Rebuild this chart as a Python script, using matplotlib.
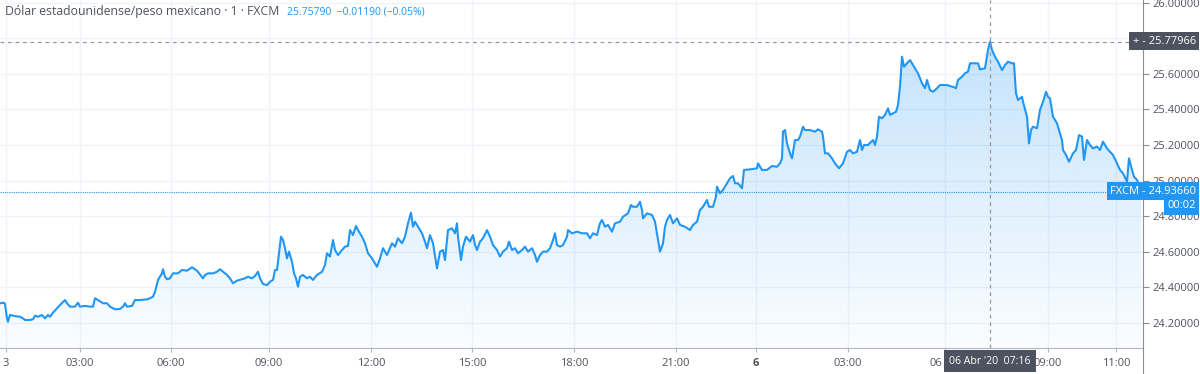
import numpy as np
import matplotlib.pyplot as plt
from matplotlib.patches import Polygon
from matplotlib.colors import to_rgb
from matplotlib.lines import Line2D
from matplotlib.transforms import ScaledTranslation

plt.rcParams['font.family'] = ['Open Sans', 'DejaVu Sans']

# USD/MXN, 1-minute bars (x = bar position on the chart, price)
bar = [
    0, 4, 5, 7, 8, 10, 15, 20, 23, 25, 30, 33, 35, 38, 42, 45, 48, 50, 53, 57,
    60, 65, 67, 70, 75, 78, 80, 85, 90, 93, 95, 98, 103, 107, 110, 115, 120, 123, 125, 127,
    132, 135, 140, 147, 150, 153, 155, 158, 162, 163, 165, 167, 170, 173, 178, 182, 187, 192, 197,
    203, 205, 208, 213, 217, 220, 223, 227, 230, 233, 237, 242, 245, 248, 252, 255, 258, 260, 263,
    267, 270, 273, 275, 277, 281, 283, 285, 287, 289, 292, 294, 296, 298, 300, 303, 307, 310, 313,
    317, 322, 325, 327, 330, 333, 335, 338, 342, 345, 348, 350, 353, 356, 358, 362, 365, 368, 372,
    377, 380, 383, 387, 392, 395, 398,
    402, 405, 408, 411, 413, 415, 418, 422, 425, 427, 430, 433, 437, 440, 443, 445, 448, 452, 455,
    457, 458, 461, 463, 466, 470, 473, 475, 477, 480, 483, 487, 490, 493, 497, 500, 503, 507, 509,
    512, 515, 518, 522, 525, 528, 532, 535, 537, 540, 543, 547, 550, 553, 555, 557, 560, 563, 567,
    568, 572, 577, 582, 587, 590, 593, 597, 599,
    600, 602, 605, 608, 612, 615, 620, 623, 628, 631, 633, 637, 640, 642, 643, 647, 652, 655, 658,
    660, 663, 665, 667, 670, 673, 677, 680, 685, 690, 693, 697, 700, 703, 707, 709, 713, 716, 717,
    720, 723, 727, 730, 733, 735, 738, 742, 744, 750, 757, 758, 762, 767, 772, 777, 780, 782, 783,
    785, 787, 790, 792, 795, 798,
    800, 803, 805, 810, 815, 818, 822, 823, 825, 828, 832, 835, 839, 843, 847, 850, 853, 857, 860,
    862, 864, 868, 873, 875, 877, 879, 882, 885, 888, 890, 893, 896, 898, 900, 902, 904, 907, 910,
    913, 916, 918, 922, 925, 927, 930, 933, 937, 940, 943, 947, 950, 953, 956, 958, 962, 965, 968,
    970, 973, 978, 980, 985, 988, 990, 992, 995, 998,
    1002, 1005, 1008, 1012, 1014, 1016, 1018, 1022, 1023, 1027, 1029, 1031, 1033, 1037, 1040, 1043,
    1046, 1048, 1050, 1053, 1057, 1060, 1062, 1063, 1066, 1069, 1073, 1076, 1079, 1082, 1084, 1087,
    1090, 1093, 1097, 1100, 1103, 1107, 1110, 1113, 1117, 1120, 1123, 1127, 1129, 1132, 1134, 1137,
    1139, 1141,
]
price = [
    24.311, 24.314, 24.307, 24.226, 24.207, 24.245, 24.239, 24.235, 24.226, 24.217, 24.217, 24.221,
    24.241, 24.235, 24.245, 24.226, 24.245, 24.235, 24.258, 24.283, 24.301, 24.329, 24.311, 24.292,
    24.292, 24.314, 24.292, 24.296, 24.292, 24.292, 24.339, 24.329, 24.311, 24.311, 24.292, 24.277,
    24.279, 24.292, 24.311, 24.292, 24.296, 24.329, 24.329, 24.333, 24.339, 24.348, 24.376, 24.442,
    24.479, 24.502, 24.460, 24.446, 24.451, 24.479, 24.479, 24.498, 24.494, 24.513, 24.494,
    24.451, 24.470, 24.479, 24.479, 24.488, 24.502, 24.488, 24.470, 24.451, 24.423, 24.438, 24.446,
    24.451, 24.460, 24.451, 24.464, 24.488, 24.451, 24.419, 24.413, 24.432, 24.442, 24.498, 24.498,
    24.685, 24.666, 24.620, 24.563, 24.601, 24.544, 24.479, 24.451, 24.404, 24.460, 24.470, 24.451,
    24.460, 24.442, 24.470, 24.488, 24.526, 24.592, 24.573, 24.666, 24.610, 24.582, 24.610, 24.629,
    24.633, 24.722, 24.694, 24.745, 24.722, 24.685, 24.648, 24.592, 24.563, 24.516, 24.563, 24.620,
    24.582, 24.648, 24.629, 24.676,
    24.648, 24.685, 24.760, 24.820, 24.741, 24.769, 24.741, 24.704, 24.657, 24.620, 24.694, 24.648,
    24.507, 24.601, 24.610, 24.554, 24.722, 24.732, 24.704, 24.760, 24.685, 24.554, 24.629, 24.685,
    24.657, 24.694, 24.638, 24.610, 24.657, 24.676, 24.722, 24.685, 24.638, 24.610, 24.573, 24.601,
    24.620, 24.657, 24.610, 24.620, 24.592, 24.610, 24.629, 24.601, 24.620, 24.582, 24.544, 24.582,
    24.601, 24.601, 24.620, 24.666, 24.704, 24.638, 24.629, 24.638, 24.685, 24.722, 24.704, 24.713,
    24.704, 24.704, 24.676, 24.704, 24.694, 24.741,
    24.760, 24.779, 24.741, 24.751, 24.713, 24.760, 24.769, 24.797, 24.816, 24.863, 24.853, 24.853,
    24.881, 24.835, 24.788, 24.816, 24.807, 24.769, 24.666, 24.601, 24.648, 24.741, 24.779, 24.807,
    24.760, 24.788, 24.751, 24.741, 24.722, 24.751, 24.769, 24.835, 24.853, 24.891, 24.853, 24.853,
    24.910, 24.966, 24.929, 24.947, 24.985, 25.013, 25.026, 24.985, 24.985, 24.957, 25.060, 25.063,
    25.069, 25.097, 25.060, 25.060, 25.082, 25.078, 25.097, 25.125, 25.275, 25.284, 25.209, 25.153,
    25.125, 25.228, 25.228,
    25.247, 25.303, 25.284, 25.284, 25.275, 25.288, 25.275, 25.247, 25.153, 25.153, 25.125, 25.097,
    25.069, 25.097, 25.162, 25.172, 25.153, 25.162, 25.228, 25.172, 25.200, 25.200, 25.228, 25.200,
    25.247, 25.359, 25.350, 25.369, 25.406, 25.369, 25.378, 25.387, 25.425, 25.527, 25.696, 25.640,
    25.659, 25.677, 25.649, 25.621, 25.603, 25.547, 25.519, 25.565, 25.509, 25.499, 25.519, 25.537,
    25.537, 25.537, 25.531, 25.527, 25.519, 25.565, 25.584, 25.603, 25.612, 25.659, 25.659, 25.659,
    25.625, 25.631, 25.734, 25.780, 25.734, 25.696, 25.668,
    25.621, 25.649, 25.668, 25.659, 25.659, 25.490, 25.453, 25.471, 25.443, 25.359, 25.209, 25.284,
    25.303, 25.294, 25.397, 25.443, 25.499, 25.471, 25.462, 25.359, 25.322, 25.266, 25.228, 25.172,
    25.144, 25.106, 25.153, 25.172, 25.256, 25.247, 25.116, 25.228, 25.200, 25.181, 25.191, 25.172,
    25.219, 25.181, 25.162, 25.144, 25.097, 25.060, 25.041, 24.994, 25.125, 25.060, 25.022, 25.004,
    24.976, 24.937,
]

tick_bars = [6, 80, 171, 269, 371, 472, 574, 676, 756, 848, 945, 1048, 1116]
tick_labels = ['3', '03:00', '06:00', '09:00', '12:00', '15:00', '18:00', '21:00',
               '6', '03:00', '06', '09:00', '11:00']
price_ticks = [24.2, 24.4, 24.6, 24.8, 25.0, 25.2, 25.4, 25.6, 25.8, 26.0]

last_price = 24.93660
cross_price = 25.77966
cross_bar = 990

LINE = '#2196f3'
TEXT = '#50535e'
GRID = '#f0f3fa'

W, H = 1200, 374
fig = plt.figure(figsize=(W / 100, H / 100), dpi=100)
ax = fig.add_axes([0, 26 / H, 1143 / W, 348 / H])
x0, x1 = 0, 1143
y0, y1 = 24.0596, 26.0146
ax.set_xlim(x0, x1)
ax.set_ylim(y0, y1)

# grid
for b in tick_bars:
    ax.axvline(b, color=GRID, lw=1, zorder=0)
for p in price_ticks:
    ax.axhline(p, color=GRID, lw=1, zorder=0)

# gradient area under the line
rgba = np.zeros((256, 1, 4))
rgba[..., :3] = to_rgb(LINE)
rgba[..., 3] = np.linspace(0.02, 0.30, 256).reshape(-1, 1)
im = ax.imshow(rgba, extent=[x0, x1, y0, y1], origin='lower', aspect='auto', zorder=1)
verts = np.column_stack([bar + [bar[-1], bar[0]], price + [y0, y0]])
clip = Polygon(verts, closed=True, facecolor='none', edgecolor='none')
ax.add_patch(clip)
im.set_clip_path(clip)

ax.plot(bar, price, color=LINE, lw=1.5, zorder=3, solid_joinstyle='round')

# last price and crosshair lines
ax.axhline(last_price, color=LINE, lw=0.8, ls=(0, (1, 1)), zorder=2)
ax.axhline(cross_price, color='#9598a1', lw=0.9, ls=(0, (3, 3)), zorder=4)
ax.axvline(cross_bar, color='#9598a1', lw=0.9, ls=(0, (3, 3)), zorder=4)

ax.set_xlim(x0, x1)
ax.set_ylim(y0, y1)

# axes styling
for s in ['top', 'left']:
    ax.spines[s].set_visible(False)
ax.spines['bottom'].set_color('#b2b5be')
ax.spines['right'].set_color('#8a8d96')
ax.yaxis.tick_right()
ax.set_yticks(price_ticks)
# 25.8 sits under the crosshair price box
ax.set_yticklabels(['' if abs(p - 25.8) < 1e-9 else f'{p:.5f}' for p in price_ticks])
ax.tick_params(axis='y', length=4, width=0.8, color='#8a8d96', pad=3,
               labelsize=8, labelcolor=TEXT)
ax.set_xticks(tick_bars)
ax.set_xticklabels(tick_labels)
ax.tick_params(axis='x', length=3, width=0.8, color='#b2b5be', pad=4,
               labelsize=8, labelcolor=TEXT)
ax.get_xticklabels()[8].set_fontweight('bold')
# the 06:00 label is mostly hidden behind the crosshair time box
xl = ax.get_xticklabels()[10]
xl.set_ha('right')
xl.set_transform(xl.get_transform() + ScaledTranslation(-3 / 100, 0, fig.dpi_scale_trans))
fig.add_artist(Line2D([1143 / W, 1143 / W], [0, 26 / H], color='#8a8d96', lw=0.8))

# header
fig.text(5 / W, 1 - 12 / H, 'Dólar estadounidense/peso mexicano · 1 · FXCM',
         fontsize=8.8, color=TEXT, va='center', ha='left')
fig.text(287 / W, 1 - 12 / H, '25.75790  −0.01190 (−0.05%)',
         fontsize=7.5, color=LINE, va='center', ha='left')

# price scale labels
fig.text(1196 / W, 1 - 41 / H, '+ - 25.77966', fontsize=8, color='white', ha='right',
         va='center', bbox=dict(boxstyle='square,pad=0.3', fc='#4c525e', ec='none'))
fig.text(1196 / W, 1 - 191 / H, 'FXCM - 24.93660', fontsize=8, color='white', ha='right',
         va='center', bbox=dict(boxstyle='square,pad=0.3', fc=LINE, ec='none'))
fig.text(1196 / W, 1 - 206 / H, '00:02', fontsize=8, color='white', ha='right',
         va='center', bbox=dict(boxstyle='square,pad=0.3', fc=LINE, ec='none'))
fig.text(990 / W, 1 - 361 / H, "06 Abr '20  07:16", fontsize=7.6, color='white', ha='center',
         va='center', bbox=dict(boxstyle='square,pad=0.5', fc='#4c525e', ec='none'))

fig.savefig('out.png', dpi=100)
